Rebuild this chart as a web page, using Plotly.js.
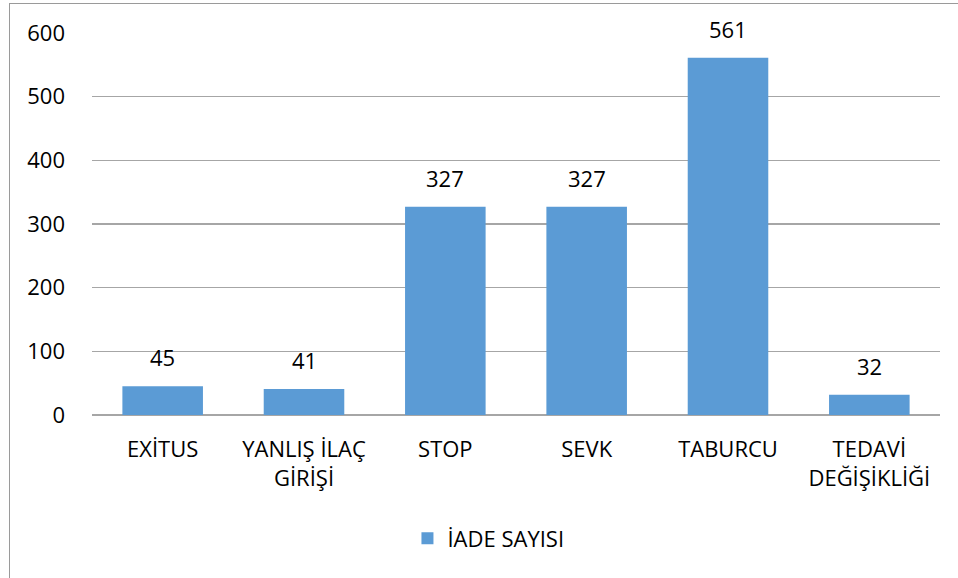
<!DOCTYPE html>
<html>
<head>
<meta charset="utf-8">
<script src="https://cdn.plot.ly/plotly-3.0.1.min.js"></script>
<style>
  html, body { margin: 0; padding: 0; background: #fff; }
  #wrap { position: relative; width: 958px; height: 578px; overflow: hidden; }
  #chart { width: 958px; height: 578px; }
  #frame { position: absolute; left: 9px; top: 3px; width: 1200px; height: 1200px;
           border: 1px solid #9a9a9a; box-sizing: border-box; pointer-events: none; }
</style>
</head>
<body>
<div id="wrap">
  <div id="chart"></div>
  <div id="frame"></div>
</div>
<script>
const categories = ["EXITUS", "YANLIŞ İLAÇ GİRİŞİ", "STOP", "SEVK", "TABURCU", "TEDAVİ DEĞİŞİKLİĞİ"];
const tickLabels = ["EXİTUS", "YANLIŞ İLAÇ<br>GİRİŞİ", "STOP", "SEVK", "TABURCU", "TEDAVİ<br>DEĞİŞİKLİĞİ"];
const values = [45, 41, 327, 327, 561, 32];
const seriesName = "İADE SAYISI";
const yTicks = [0, 100, 200, 300, 400, 500, 600];

const font = { family: "Open Sans, sans-serif", size: 22, color: "#000000" };

const trace = {
  type: "bar",
  x: categories,
  y: values,
  name: seriesName,
  marker: { color: "#5b9bd5" },
  showlegend: true,
  hoverinfo: "skip"
};

const annotations = categories.map((c, i) => ({
  x: c, y: values[i], xref: "x", yref: "y",
  text: String(values[i]), showarrow: false,
  yanchor: "bottom", yshift: 12,
  font: font
}));

const layout = {
  width: 958, height: 578,
  margin: { l: 92, r: 18, t: 33, b: 163 },
  paper_bgcolor: "#ffffff", plot_bgcolor: "#ffffff",
  font: font,
  bargap: 0.43,
  xaxis: {
    type: "category",
    tickvals: categories,
    ticktext: tickLabels,
    showgrid: false, zeroline: false, showline: false,
    ticks: "", ticklabelstandoff: 19,
    tickfont: font
  },
  yaxis: {
    range: [0, 600],
    tickvals: yTicks,
    showgrid: true, gridcolor: "#a6a6a6", gridwidth: 1.3,
    zeroline: true, zerolinecolor: "#a6a6a6", zerolinewidth: 1.3,
    showline: false, ticks: "", ticklabelstandoff: 26,
    tickfont: font
  },
  legend: {
    orientation: "h",
    x: 0.372, xanchor: "left",
    y: -0.323, yanchor: "middle",
    font: font,
    bgcolor: "rgba(0,0,0,0)"
  },
  annotations: annotations
};

Plotly.newPlot("chart", [trace], layout, { displayModeBar: false, staticPlot: true });
</script>
</body>
</html>
